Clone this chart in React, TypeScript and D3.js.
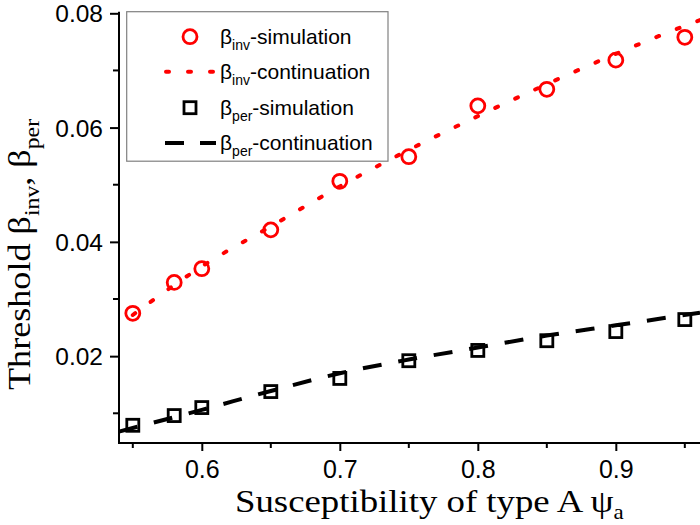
import React, { useEffect, useRef } from 'react';
import * as d3 from 'd3';

const psiSim = [0.55, 0.58, 0.6, 0.65, 0.7, 0.75, 0.8, 0.85, 0.9, 0.95];
const betaInvSim = [0.0275, 0.0329, 0.0353, 0.0421, 0.0506, 0.0549, 0.0638, 0.0667, 0.0718, 0.0758];
const betaPerSim = [0.0079, 0.0096, 0.011, 0.0138, 0.0161, 0.0192, 0.021, 0.0227, 0.0243, 0.0264];
const psiInvCont = [0.55, 0.6, 0.65, 0.7, 0.75, 0.8, 0.85, 0.9, 0.95, 0.961];
const betaInvCont = [0.0272, 0.0357, 0.0427, 0.0497, 0.0561, 0.062, 0.0676, 0.0729, 0.0778, 0.0788];
const psiPerCont = [0.54, 0.6, 0.65, 0.7, 0.75, 0.8, 0.85, 0.9, 0.961];
const betaPerCont = [0.0068, 0.0106, 0.0139, 0.017, 0.0194, 0.0215, 0.0236, 0.0254, 0.0276];
const xMajor = [0.6, 0.7, 0.8, 0.9];
const xMinor = [0.55, 0.65, 0.75, 0.85, 0.95];
const yMajor = [0.02, 0.04, 0.06, 0.08];
const yMinor = [0.01, 0.03, 0.05, 0.07];

const W = 700, H = 525;
const SANS = "'Liberation Sans', Arial, sans-serif";
const SERIF = "'Liberation Serif', 'Times New Roman', serif";
const RED = '#ff0000';

export default function App() {
  const ref = useRef<SVGSVGElement>(null);
  useEffect(() => {
    const svg = d3.select(ref.current);
    svg.selectAll('*').remove();
    const x = d3.scaleLinear().domain([0.54, 0.961]).range([119, 700]);
    const y = d3.scaleLinear().domain([0.0048, 0.08]).range([443, 13.3]);

    // axes
    const gx = svg.append('g').attr('transform', `translate(0,${y.range()[0]})`);
    gx.call(d3.axisBottom(x).tickValues(xMajor).tickSize(8).tickSizeOuter(0).tickFormat(d3.format('.1f')) as any);
    gx.call((g) => g.select('.domain').remove());
    gx.append('line').attr('x1', 118).attr('x2', 700).attr('stroke', '#000').attr('stroke-width', 2);
    gx.selectAll('.tick line').attr('stroke-width', 2);
    gx.selectAll('.tick text').attr('font-size', 25).attr('font-family', SANS).attr('fill', '#000').attr('dy', null).attr('y', 35);
    xMinor.forEach((v) => gx.append('line').attr('x1', x(v)).attr('x2', x(v)).attr('y1', 0).attr('y2', 5).attr('stroke', '#000').attr('stroke-width', 2));

    const gy = svg.append('g').attr('transform', `translate(${x.range()[0]},0)`);
    gy.call(d3.axisLeft(y).tickValues(yMajor).tickSize(9).tickSizeOuter(0).tickFormat(d3.format('.2f')) as any);
    gy.call((g) => g.select('.domain').remove());
    gy.append('line').attr('y1', 11.7).attr('y2', 444).attr('stroke', '#000').attr('stroke-width', 2);
    gy.selectAll('.tick line').attr('stroke-width', 2);
    gy.selectAll('.tick text').attr('font-size', 24.5).attr('font-family', SANS).attr('fill', '#000').attr('x', -16).attr('dy', '0.35em');
    yMinor.forEach((v) => gy.append('line').attr('y1', y(v)).attr('y2', y(v)).attr('x1', 0).attr('x2', -6).attr('stroke', '#000').attr('stroke-width', 2));

    // lines
    const line = d3.line<[number, number]>().x((d) => x(d[0])).y((d) => y(d[1])).curve(d3.curveMonotoneX);
    svg.append('path').attr('d', line(psiInvCont.map((p, i) => [p, betaInvCont[i]]))!)
      .attr('fill', 'none').attr('stroke', RED).attr('stroke-width', 4).attr('stroke-linecap', 'round').attr('stroke-dasharray', '3,19');
    svg.append('path').attr('d', line(psiPerCont.map((p, i) => [p, betaPerCont[i]]))!)
      .attr('fill', 'none').attr('stroke', '#000').attr('stroke-width', 4).attr('stroke-dasharray', '19,17');

    // markers
    svg.append('g').selectAll('circle').data(psiSim).join('circle')
      .attr('cx', (d) => x(d)).attr('cy', (d, i) => y(betaInvSim[i])).attr('r', 7)
      .attr('fill', 'none').attr('stroke', RED).attr('stroke-width', 2.8);
    svg.append('g').selectAll('rect').data(psiSim).join('rect')
      .attr('x', (d) => x(d) - 6).attr('y', (d, i) => y(betaPerSim[i]) - 6).attr('width', 12).attr('height', 12)
      .attr('fill', 'none').attr('stroke', '#000').attr('stroke-width', 2.8);

    // legend
    const lg = svg.append('g');
    lg.append('rect').attr('x', 126.7).attr('y', 11.7).attr('width', 261.3).attr('height', 149.5)
      .attr('fill', '#fff').attr('stroke', '#808080').attr('stroke-width', 1.2);
    const rows = [
      { cy: 36.7, sub: 'inv', label: '-simulation', kind: 'circle' },
      { cy: 71.7, sub: 'inv', label: '-continuation', kind: 'dot' },
      { cy: 107.7, sub: 'per', label: '-simulation', kind: 'square' },
      { cy: 143, sub: 'per', label: '-continuation', kind: 'dash' },
    ];
    rows.forEach((r) => {
      if (r.kind === 'circle') lg.append('circle').attr('cx', 190).attr('cy', r.cy).attr('r', 7).attr('fill', 'none').attr('stroke', RED).attr('stroke-width', 2.8);
      if (r.kind === 'square') lg.append('rect').attr('x', 184).attr('y', r.cy - 6).attr('width', 12).attr('height', 12).attr('fill', 'none').attr('stroke', '#000').attr('stroke-width', 2.8);
      if (r.kind === 'dot') lg.append('line').attr('x1', 166).attr('x2', 215).attr('y1', r.cy).attr('y2', r.cy).attr('stroke', RED).attr('stroke-width', 4).attr('stroke-linecap', 'round').attr('stroke-dasharray', '3,19');
      if (r.kind === 'dash') lg.append('line').attr('x1', 165).attr('x2', 216).attr('y1', r.cy).attr('y2', r.cy).attr('stroke', '#000').attr('stroke-width', 4).attr('stroke-dasharray', '19,16');
      const t = lg.append('text').attr('x', 220).attr('y', r.cy + 7).attr('font-family', SANS).attr('font-size', 21).attr('fill', '#000');
      t.append('tspan').text('β');
      t.append('tspan').attr('dy', 6).attr('font-size', 14).text(r.sub);
      t.append('tspan').attr('dy', -6).text(r.label);
    });

    // axis titles
    const xt = svg.append('text').attr('transform', 'translate(235,512) scale(1.15,1)').attr('font-family', SERIF).attr('font-size', 32).attr('fill', '#000');
    xt.append('tspan').text('Susceptibility of type A ψ');
    xt.append('tspan').attr('dy', 7).attr('font-size', 20).text('a');

    const yt = svg.append('text').attr('transform', 'translate(30,390) rotate(-90) scale(1.13,1)').attr('font-family', SERIF).attr('font-size', 32).attr('fill', '#000');
    yt.append('tspan').text('Threshold β');
    yt.append('tspan').attr('dy', 9).attr('font-size', 21).text('inv');
    yt.append('tspan').attr('dy', -9).text(', β');
    yt.append('tspan').attr('dy', 9).attr('font-size', 21).text('per');
  }, []);
  return (
    <div style={{ position: 'absolute', left: 0, top: 0, background: '#fff' }}>
      <svg ref={ref} width={W} height={H} style={{ display: 'block' }} />
    </div>
  );
}
